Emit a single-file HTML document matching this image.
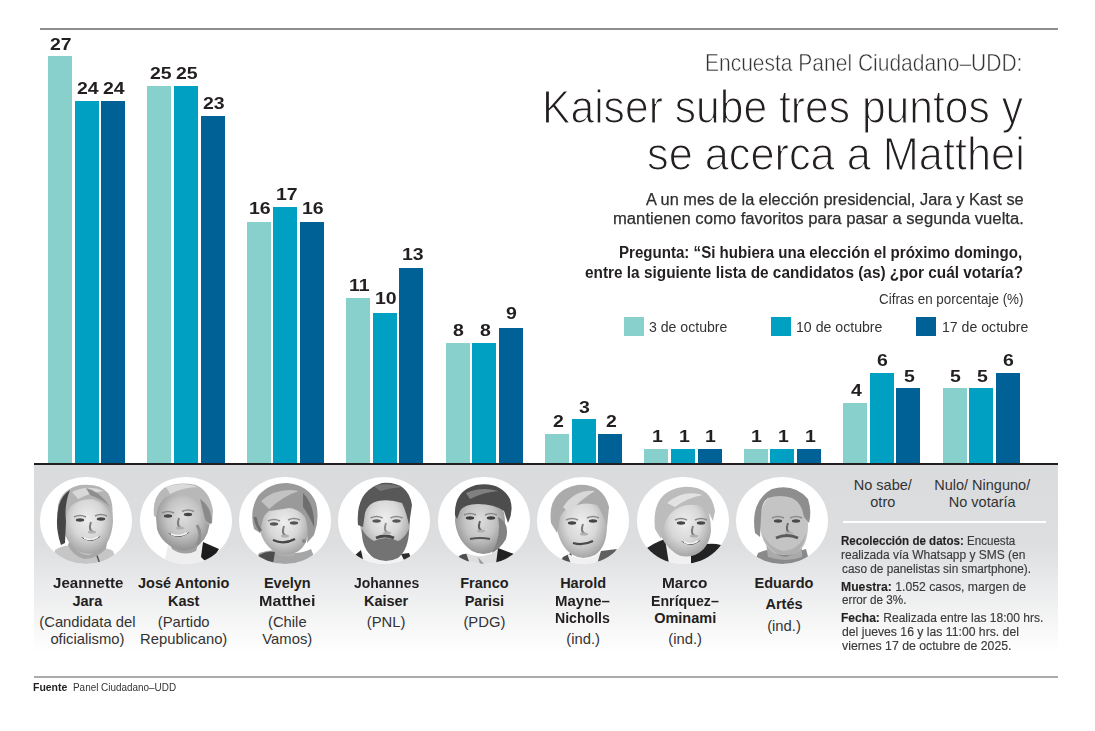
<!DOCTYPE html>
<html><head><meta charset="utf-8"><style>
html,body{margin:0;padding:0;background:#fff;}
body{width:1095px;height:731px;position:relative;overflow:hidden;font-family:"Liberation Sans", sans-serif;}
.t{position:absolute;white-space:nowrap;}
.b{position:absolute;}
.ph{position:absolute;width:92px;height:87px;border-radius:50%;background:#fff;overflow:hidden;}
</style></head><body>
<div style="position:absolute;left:40px;top:28px;width:1018px;height:2px;background:#8f8f8f"></div>
<div style="position:absolute;left:34px;top:465px;width:1024px;height:188px;background:linear-gradient(#dadbdd 0%,#dddee0 42%,#ffffff 100%)"></div>
<div style="position:absolute;left:843px;top:521px;width:203px;height:2px;background:#fff"></div>
<div style="position:absolute;left:34px;top:676px;width:1024px;height:1.5px;background:#ababab"></div>
<div class="b" style="left:624px;top:317px;width:20.3px;height:19.1px;background:#88d0cb"></div>
<div class="b" style="left:771px;top:317px;width:20.3px;height:19.1px;background:#00a0c3"></div>
<div class="b" style="left:916px;top:317px;width:20.3px;height:19.1px;background:#006196"></div>
<div class="b" style="left:48.00px;top:55.98px;width:24px;height:409.02px;background:#88d0cb"></div><div class="b" style="left:74.60px;top:101.31px;width:24px;height:363.69px;background:#00a0c3"></div><div class="b" style="left:101.20px;top:101.31px;width:24px;height:363.69px;background:#006196"></div><div class="b" style="left:147.40px;top:86.20px;width:24px;height:378.80px;background:#88d0cb"></div><div class="b" style="left:174.00px;top:86.20px;width:24px;height:378.80px;background:#00a0c3"></div><div class="b" style="left:200.60px;top:116.42px;width:24px;height:348.58px;background:#006196"></div><div class="b" style="left:246.80px;top:222.17px;width:24px;height:242.83px;background:#88d0cb"></div><div class="b" style="left:273.40px;top:207.06px;width:24px;height:257.94px;background:#00a0c3"></div><div class="b" style="left:300.00px;top:222.17px;width:24px;height:242.83px;background:#006196"></div><div class="b" style="left:346.20px;top:297.71px;width:24px;height:167.29px;background:#88d0cb"></div><div class="b" style="left:372.80px;top:312.82px;width:24px;height:152.18px;background:#00a0c3"></div><div class="b" style="left:399.40px;top:267.50px;width:24px;height:197.50px;background:#006196"></div><div class="b" style="left:445.60px;top:343.04px;width:24px;height:121.96px;background:#88d0cb"></div><div class="b" style="left:472.20px;top:343.04px;width:24px;height:121.96px;background:#00a0c3"></div><div class="b" style="left:498.80px;top:327.93px;width:24px;height:137.07px;background:#006196"></div><div class="b" style="left:545.00px;top:433.68px;width:24px;height:31.32px;background:#88d0cb"></div><div class="b" style="left:571.60px;top:418.58px;width:24px;height:46.42px;background:#00a0c3"></div><div class="b" style="left:598.20px;top:433.68px;width:24px;height:31.32px;background:#006196"></div><div class="b" style="left:644.40px;top:448.79px;width:24px;height:16.21px;background:#88d0cb"></div><div class="b" style="left:671.00px;top:448.79px;width:24px;height:16.21px;background:#00a0c3"></div><div class="b" style="left:697.60px;top:448.79px;width:24px;height:16.21px;background:#006196"></div><div class="b" style="left:743.80px;top:448.79px;width:24px;height:16.21px;background:#88d0cb"></div><div class="b" style="left:770.40px;top:448.79px;width:24px;height:16.21px;background:#00a0c3"></div><div class="b" style="left:797.00px;top:448.79px;width:24px;height:16.21px;background:#006196"></div><div class="b" style="left:843.20px;top:403.47px;width:24px;height:61.53px;background:#88d0cb"></div><div class="b" style="left:869.80px;top:373.25px;width:24px;height:91.75px;background:#00a0c3"></div><div class="b" style="left:896.40px;top:388.36px;width:24px;height:76.64px;background:#006196"></div><div class="b" style="left:942.60px;top:388.36px;width:24px;height:76.64px;background:#88d0cb"></div><div class="b" style="left:969.20px;top:388.36px;width:24px;height:76.64px;background:#00a0c3"></div><div class="b" style="left:995.80px;top:373.25px;width:24px;height:91.75px;background:#006196"></div>
<div style="position:absolute;left:34px;top:463px;width:1024px;height:2px;background:#231f20"></div>
<div class="ph" style="left:40.10px;top:477px;"><svg width="92" height="87" viewBox="0 0 92 87" style="position:absolute;left:0;top:0"><defs><filter id="bl1" x="-20%" y="-20%" width="140%" height="140%"><feGaussianBlur stdDeviation="0.7"/></filter><radialGradient id="fg1" cx="50%" cy="45%" r="60%"><stop offset="0" stop-color="#eeeeee"/><stop offset="0.5" stop-color="#d8d8d8"/><stop offset="1" stop-color="#9c9c9c"/></radialGradient><radialGradient id="fd1" cx="50%" cy="45%" r="60%"><stop offset="0" stop-color="#dedede"/><stop offset="0.5" stop-color="#c4c4c4"/><stop offset="1" stop-color="#888888"/></radialGradient></defs><g filter="url(#bl1)">
<path d="M12,87 L15,73 Q24,67 34,69 Q48,78 60,73 Q68,70 73,74 L78,87 Z" fill="#c6c6c6"/>
<path d="M56,76 L60,87" stroke="#555" stroke-width="1.5"/>
<path d="M30,62 Q36,78 49,78 Q62,74 68,60 L66,72 Q56,82 44,82 Q32,78 28,68 Z" fill="#a8a8a8"/>
<path d="M22,44 Q22,14 47,14 Q73,16 73,44 Q72,64 60,74 Q50,79 40,75 Q24,66 22,44 Z" fill="url(#fg1)"/>
<path d="M21,67 Q16,50 18,28 Q22,12 40,8 Q60,6 68,16 Q74,26 72,40 L68,33 Q62,24 52,22 Q38,22 30,30 Q25,38 25,52 L24,66 Z" fill="#b4b4b4"/>
<path d="M21,68 Q14,48 19,28 Q22,18 30,13 Q24,28 26,44 L25,66 Z" fill="#454545"/>
<path d="M32,15 Q48,7 64,14 Q52,15 38,22 Z" fill="#d8d8d8"/>
<path d="M46,11 Q60,14 70,30 Q62,22 50,18 Z" fill="#8e8e8e"/>
<path d="M34,40 Q40,37 46,40" stroke="#8a8a8a" stroke-width="1.5" fill="none"/><ellipse cx="40" cy="43" rx="4.2" ry="1.7" fill="#444"/><path d="M55,39 Q61,36 67,39" stroke="#8a8a8a" stroke-width="1.5" fill="none"/><ellipse cx="61" cy="42" rx="4.2" ry="1.7" fill="#444"/><path d="M51,45 Q48,53 53,55" stroke="#7e7e7e" stroke-width="2" fill="none"/><ellipse cx="52" cy="55" rx="4" ry="1.5" fill="#b0b0b0"/><path d="M41,60 Q51.0,65 61,59 Q51.0,68 41,60 Z" fill="#353535"/><path d="M44,61 Q51.0,64.5 58,60" stroke="#f2f2f2" stroke-width="1.6" fill="none"/></g></svg></div><div class="ph" style="left:139.50px;top:477px;"><svg width="92" height="87" viewBox="0 0 92 87" style="position:absolute;left:0;top:0"><defs><filter id="bl2" x="-20%" y="-20%" width="140%" height="140%"><feGaussianBlur stdDeviation="0.7"/></filter><radialGradient id="fg2" cx="50%" cy="45%" r="60%"><stop offset="0" stop-color="#eeeeee"/><stop offset="0.5" stop-color="#d8d8d8"/><stop offset="1" stop-color="#9c9c9c"/></radialGradient><radialGradient id="fd2" cx="50%" cy="45%" r="60%"><stop offset="0" stop-color="#dedede"/><stop offset="0.5" stop-color="#c4c4c4"/><stop offset="1" stop-color="#888888"/></radialGradient></defs><g filter="url(#bl2)">
<path d="M24,87 L28,68 Q44,74 62,66 L66,87 Z" fill="#eeeeee"/>
<path d="M30,66 Q42,76 58,68 L56,74 Q44,80 32,72 Z" fill="#a0a0a0"/>
<path d="M63,65 L79,72 Q74,81 66,85 L61,80 Z" fill="#1e1e1e"/>
<path d="M16,40 Q16,12 42,12 Q68,14 70,40 Q70,58 60,67 Q50,75 40,73 Q22,68 17,52 Z" fill="url(#fd2)"/>
<path d="M14,39 Q12,20 24,11 Q38,4 56,8 Q70,14 73,34 L72,46 Q68,50 66,44 Q64,30 54,20 Q40,14 26,20 Q18,26 16,40 Z" fill="#b8b8b8"/>
<path d="M60,22 Q72,30 72,46 Q66,48 64,38 Z" fill="#8a8a8a"/>
<path d="M26,10 Q42,4 58,10 Q44,10 30,17 Z" fill="#dadada"/>
<path d="M22,36 Q28,33 34,36" stroke="#8a8a8a" stroke-width="1.5" fill="none"/><ellipse cx="28" cy="39" rx="4.2" ry="1.7" fill="#444"/><path d="M42,34.5 Q48,31.5 54,34.5" stroke="#8a8a8a" stroke-width="1.5" fill="none"/><ellipse cx="48" cy="37.5" rx="4.2" ry="1.7" fill="#444"/><path d="M39,41 Q36,49 41,51" stroke="#7e7e7e" stroke-width="2" fill="none"/><ellipse cx="40" cy="51" rx="4" ry="1.5" fill="#b0b0b0"/><path d="M28,56 Q39.0,61 50,55 Q39.0,64 28,56 Z" fill="#353535"/><path d="M31,57 Q39.0,60.5 47,56" stroke="#f2f2f2" stroke-width="1.6" fill="none"/>
<path d="M57,48 Q63,58 57,68" stroke="#8e8e8e" stroke-width="3" fill="none"/>
</g></svg></div><div class="ph" style="left:238.90px;top:477px;"><svg width="92" height="87" viewBox="0 0 92 87" style="position:absolute;left:0;top:0"><defs><filter id="bl3" x="-20%" y="-20%" width="140%" height="140%"><feGaussianBlur stdDeviation="0.7"/></filter><radialGradient id="fg3" cx="50%" cy="45%" r="60%"><stop offset="0" stop-color="#eeeeee"/><stop offset="0.5" stop-color="#d8d8d8"/><stop offset="1" stop-color="#9c9c9c"/></radialGradient><radialGradient id="fd3" cx="50%" cy="45%" r="60%"><stop offset="0" stop-color="#dedede"/><stop offset="0.5" stop-color="#c4c4c4"/><stop offset="1" stop-color="#888888"/></radialGradient></defs><g filter="url(#bl3)">
<path d="M16,87 L20,76 Q34,71 46,75 Q60,78 72,72 L78,87 Z" fill="#a6a6a6"/>
<path d="M20,78 Q28,73 36,75 L34,87 L18,87 Z" fill="#4e4e4e"/>
<path d="M36,68 Q44,78 56,70 L56,78 Q46,82 36,76 Z" fill="#b0b0b0"/>
<path d="M20,48 Q20,20 45,20 Q70,20 70,48 Q70,68 58,75 Q46,80 36,75 Q22,66 20,48 Z" fill="url(#fg3)"/>
<path d="M15,52 Q10,34 19,19 Q30,6 48,6 Q70,8 77,26 Q81,42 75,58 L68,66 Q70,50 66,40 Q60,32 50,31 Q38,33 30,34 Q24,38 23,46 L21,56 Z" fill="#9a9a9a"/>
<path d="M22,24 Q38,10 60,14 Q46,18 30,32 Z" fill="#c2c2c2"/>
<path d="M64,16 Q76,28 75,50 Q70,38 64,30 Z" fill="#6e6e6e"/>
<path d="M16,40 Q18,50 22,54" stroke="#6e6e6e" stroke-width="3" fill="none"/>
<path d="M29,44 Q35,41 41,44" stroke="#8a8a8a" stroke-width="1.5" fill="none"/><ellipse cx="35" cy="47" rx="4.2" ry="1.7" fill="#555"/><path d="M49,43 Q55,40 61,43" stroke="#8a8a8a" stroke-width="1.5" fill="none"/><ellipse cx="55" cy="46" rx="4.2" ry="1.7" fill="#555"/><path d="M45,49 Q42,57 47,59" stroke="#7e7e7e" stroke-width="2" fill="none"/><ellipse cx="46" cy="59" rx="4" ry="1.5" fill="#b0b0b0"/>
<path d="M34,63 Q45,68 56,62" stroke="#444" stroke-width="2.2" fill="none"/>
<circle cx="65" cy="64" r="2" fill="#888"/>
</g></svg></div><div class="ph" style="left:338.30px;top:477px;"><svg width="92" height="87" viewBox="0 0 92 87" style="position:absolute;left:0;top:0"><defs><filter id="bl4" x="-20%" y="-20%" width="140%" height="140%"><feGaussianBlur stdDeviation="0.7"/></filter><radialGradient id="fg4" cx="50%" cy="45%" r="60%"><stop offset="0" stop-color="#eeeeee"/><stop offset="0.5" stop-color="#d8d8d8"/><stop offset="1" stop-color="#9c9c9c"/></radialGradient><radialGradient id="fd4" cx="50%" cy="45%" r="60%"><stop offset="0" stop-color="#dedede"/><stop offset="0.5" stop-color="#c4c4c4"/><stop offset="1" stop-color="#888888"/></radialGradient></defs><g filter="url(#bl4)">
<path d="M15,80 L23,73 L28,87 L16,87 Z" fill="#262626"/>
<path d="M23,73 Q46,92 66,78 L70,87 L26,87 Z" fill="#f2f2f2"/>
<path d="M63,77 L71,76 L74,84 L68,87 Z" fill="#2e2e2e"/>
<path d="M22,44 Q22,14 46,14 Q72,14 72,44 Q72,64 62,72 Q48,78 34,72 Q22,62 22,44 Z" fill="url(#fg4)"/>
<path d="M24,52 Q23,72 36,81 Q48,87 60,81 Q71,72 71,52 Q66,62 60,64 Q48,58 36,64 Q28,60 24,52 Z" fill="#737373"/>
<path d="M38,61 Q47,57 56,61" stroke="#4a4a4a" stroke-width="3" fill="none"/>
<path d="M20,48 Q17,14 44,6 Q70,4 74,28 L71,48 Q68,34 64,26 Q52,22 40,24 Q30,26 27,36 L25,50 Z" fill="#595959"/>
<path d="M36,9 Q50,5 64,10 Q52,11 42,14 Z" fill="#767676"/>
<path d="M32.6,41 Q38.6,38 44.6,41" stroke="#8a8a8a" stroke-width="1.5" fill="none"/><ellipse cx="38.6" cy="44" rx="4.2" ry="1.7" fill="#555"/><path d="M52.5,41 Q58.5,38 64.5,41" stroke="#8a8a8a" stroke-width="1.5" fill="none"/><ellipse cx="58.5" cy="44" rx="4.2" ry="1.7" fill="#555"/><path d="M48,46 Q45,54 50,56" stroke="#909090" stroke-width="2" fill="none"/><ellipse cx="49" cy="56" rx="4" ry="1.5" fill="#b0b0b0"/></g></svg></div><div class="ph" style="left:437.70px;top:477px;"><svg width="92" height="87" viewBox="0 0 92 87" style="position:absolute;left:0;top:0"><defs><filter id="bl5" x="-20%" y="-20%" width="140%" height="140%"><feGaussianBlur stdDeviation="0.7"/></filter><radialGradient id="fg5" cx="50%" cy="45%" r="60%"><stop offset="0" stop-color="#eeeeee"/><stop offset="0.5" stop-color="#d8d8d8"/><stop offset="1" stop-color="#9c9c9c"/></radialGradient><radialGradient id="fd5" cx="50%" cy="45%" r="60%"><stop offset="0" stop-color="#dedede"/><stop offset="0.5" stop-color="#c4c4c4"/><stop offset="1" stop-color="#888888"/></radialGradient></defs><g filter="url(#bl5)">
<path d="M18,87 L21,79 Q26,76 30,77 L34,87 Z" fill="#505050"/>
<path d="M28,76 Q44,84 62,72 L66,87 L32,87 Z" fill="#dedede"/>
<path d="M40,80 L46,87 L42,87 Z" fill="#9a9a9a"/>
<path d="M60,71 L76,77 Q72,84 62,87 L58,87 Z" fill="#222"/>
<path d="M17,44 Q17,16 41,16 Q67,18 67,46 Q67,66 56,74 Q46,80 34,74 Q19,64 17,44 Z" fill="url(#fd5)"/>
<path d="M60,40 Q72,46 68,62 Q62,72 54,76 Q64,58 60,40 Z" fill="#828282"/>
<path d="M17,38 Q16,14 38,8 Q62,4 72,22 Q76,34 70,46 L66,34 Q56,27 40,27 Q26,27 22,34 L19,42 Z" fill="#4e4e4e"/>
<path d="M28,16 Q44,9 60,14 Q46,15 32,22 Z" fill="#808080"/>
<path d="M26,38 Q32,35 38,38" stroke="#8a8a8a" stroke-width="1.5" fill="none"/><ellipse cx="32" cy="41" rx="4.2" ry="1.7" fill="#3e3e3e"/><path d="M47,38 Q53,35 59,38" stroke="#8a8a8a" stroke-width="1.5" fill="none"/><ellipse cx="53" cy="41" rx="4.2" ry="1.7" fill="#3e3e3e"/><path d="M42,44 Q39,52 44,54" stroke="#5e5e5e" stroke-width="2" fill="none"/><ellipse cx="43" cy="54" rx="4" ry="1.5" fill="#b0b0b0"/>
<path d="M32,62 Q42,60 52,62" stroke="#555" stroke-width="2.2" fill="none"/>
</g></svg></div><div class="ph" style="left:537.10px;top:477px;"><svg width="92" height="87" viewBox="0 0 92 87" style="position:absolute;left:0;top:0"><defs><filter id="bl6" x="-20%" y="-20%" width="140%" height="140%"><feGaussianBlur stdDeviation="0.7"/></filter><radialGradient id="fg6" cx="50%" cy="45%" r="60%"><stop offset="0" stop-color="#eeeeee"/><stop offset="0.5" stop-color="#d8d8d8"/><stop offset="1" stop-color="#9c9c9c"/></radialGradient><radialGradient id="fd6" cx="50%" cy="45%" r="60%"><stop offset="0" stop-color="#dedede"/><stop offset="0.5" stop-color="#c4c4c4"/><stop offset="1" stop-color="#888888"/></radialGradient></defs><g filter="url(#bl6)">
<path d="M22,87 L26,80 L34,76 L38,87 Z" fill="#505050"/>
<path d="M30,76 Q48,88 66,74 L64,87 L34,87 Z" fill="#f0f0f0"/>
<path d="M64,74 L80,72 Q74,82 64,87 L60,87 Z" fill="#606060"/>
<path d="M19,46 Q19,16 44,16 Q70,16 70,48 Q70,70 58,78 Q46,84 36,78 Q22,70 19,46 Z" fill="url(#fg6)"/>
<path d="M14,46 Q10,14 40,8 Q66,6 72,30 L70,50 Q66,36 60,28 Q48,24 34,30 Q22,34 22,48 L20,56 Z" fill="#ababab"/>
<path d="M26,30 Q38,12 58,14 Q44,22 32,36 Z" fill="#d8d8d8"/>
<path d="M29,43 Q35,40 41,43" stroke="#8a8a8a" stroke-width="1.5" fill="none"/><ellipse cx="35" cy="46" rx="4.2" ry="1.7" fill="#444"/><path d="M50,41 Q56,38 62,41" stroke="#8a8a8a" stroke-width="1.5" fill="none"/><ellipse cx="56" cy="44" rx="4.2" ry="1.7" fill="#444"/><path d="M46,47 Q43,55 48,57" stroke="#7e7e7e" stroke-width="2" fill="none"/><ellipse cx="47" cy="57" rx="4" ry="1.5" fill="#b0b0b0"/>
<path d="M36,66 Q46,69 56,64" stroke="#4a4a4a" stroke-width="2.2" fill="none"/>
</g></svg></div><div class="ph" style="left:636.50px;top:477px;"><svg width="92" height="87" viewBox="0 0 92 87" style="position:absolute;left:0;top:0"><defs><filter id="bl7" x="-20%" y="-20%" width="140%" height="140%"><feGaussianBlur stdDeviation="0.7"/></filter><radialGradient id="fg7" cx="50%" cy="45%" r="60%"><stop offset="0" stop-color="#eeeeee"/><stop offset="0.5" stop-color="#d8d8d8"/><stop offset="1" stop-color="#9c9c9c"/></radialGradient><radialGradient id="fd7" cx="50%" cy="45%" r="60%"><stop offset="0" stop-color="#dedede"/><stop offset="0.5" stop-color="#c4c4c4"/><stop offset="1" stop-color="#888888"/></radialGradient></defs><g filter="url(#bl7)">
<path d="M6,74 Q16,66 28,62 L34,87 L16,87 Z" fill="#262626"/>
<path d="M28,62 Q38,86 56,76 L56,87 L32,87 Z" fill="#f0f0f0"/>
<path d="M54,72 Q70,64 84,68 Q80,80 70,87 L54,87 Z" fill="#202020"/>
<path d="M22,50 Q22,18 48,18 Q74,20 74,54 Q72,72 58,78 Q46,82 38,76 Q24,66 22,50 Z" fill="url(#fg7)"/>
<path d="M18,52 Q14,14 46,10 Q74,8 78,34 L76,44 Q70,30 60,28 Q44,26 34,36 Q26,44 26,56 L24,62 Z" fill="#bcbcbc"/>
<path d="M30,26 Q46,12 66,18 Q52,20 38,30 Z" fill="#e2e2e2"/>
<path d="M38,43 Q44,40 50,43" stroke="#8a8a8a" stroke-width="1.5" fill="none"/><ellipse cx="44" cy="46" rx="4.2" ry="1.7" fill="#444"/><path d="M58,43 Q64,40 70,43" stroke="#8a8a8a" stroke-width="1.5" fill="none"/><ellipse cx="64" cy="46" rx="4.2" ry="1.7" fill="#444"/><path d="M56,49 Q53,57 58,59" stroke="#7e7e7e" stroke-width="2" fill="none"/><ellipse cx="57" cy="59" rx="4" ry="1.5" fill="#b0b0b0"/><path d="M44,64 Q54.0,69 64,63 Q54.0,72 44,64 Z" fill="#353535"/><path d="M47,65 Q54.0,68.5 61,64" stroke="#f2f2f2" stroke-width="1.6" fill="none"/></g></svg></div><div class="ph" style="left:735.90px;top:477px;"><svg width="92" height="87" viewBox="0 0 92 87" style="position:absolute;left:0;top:0"><defs><filter id="bl8" x="-20%" y="-20%" width="140%" height="140%"><feGaussianBlur stdDeviation="0.7"/></filter><radialGradient id="fg8" cx="50%" cy="45%" r="60%"><stop offset="0" stop-color="#eeeeee"/><stop offset="0.5" stop-color="#d8d8d8"/><stop offset="1" stop-color="#9c9c9c"/></radialGradient><radialGradient id="fd8" cx="50%" cy="45%" r="60%"><stop offset="0" stop-color="#dedede"/><stop offset="0.5" stop-color="#c4c4c4"/><stop offset="1" stop-color="#888888"/></radialGradient></defs><g filter="url(#bl8)">
<path d="M18,87 L22,76 Q34,70 46,74 Q60,76 70,72 L74,87 Z" fill="#8a8a8a"/>
<path d="M30,66 Q40,80 50,80 Q60,78 66,66 L66,80 Q50,86 32,80 Z" fill="#aaaaaa"/>
<path d="M24,46 Q24,16 48,16 Q72,18 72,48 Q72,70 60,76 Q48,80 38,76 Q24,66 24,46 Z" fill="#c4c4c4"/>
<path d="M26,56 Q30,70 40,76 Q50,80 60,76 Q68,70 70,56 Q64,72 48,74 Q34,72 26,56 Z" fill="#b0b0b0"/>
<path d="M19,56 Q14,24 36,12 Q58,6 72,22 Q76,34 73,46 L68,40 Q66,26 56,21 Q44,17 32,21 Q25,26 25,40 L24,60 Z" fill="#8e8e8e"/>
<path d="M36,41 Q42,38 48,41" stroke="#8a8a8a" stroke-width="1.5" fill="none"/><ellipse cx="42" cy="44" rx="4.2" ry="1.7" fill="#4a4a4a"/><path d="M54,41 Q60,38 66,41" stroke="#8a8a8a" stroke-width="1.5" fill="none"/><ellipse cx="60" cy="44" rx="4.2" ry="1.7" fill="#4a4a4a"/><path d="M52,46 Q49,54 54,56" stroke="#6a6a6a" stroke-width="2" fill="none"/><ellipse cx="53" cy="56" rx="4" ry="1.5" fill="#b0b0b0"/>
<path d="M40,61 Q51,56 62,61" stroke="#5a5a5a" stroke-width="3" fill="none"/>
</g></svg></div>
<div class="t" style="left:705.25px;top:51.00px;font-size:24px;line-height:24px;font-weight:400;color:#333;-webkit-text-stroke:0.5px #fff;transform:scaleX(0.8747);transform-origin:0 0;">Encuesta Panel Ciudadano–UDD:</div><div class="t" style="left:542.25px;top:85.00px;font-size:45.5px;line-height:45.5px;font-weight:400;color:#231f20;-webkit-text-stroke:1.2px #fff;transform:scaleX(0.9370);transform-origin:0 0;">Kaiser sube tres puntos y</div><div class="t" style="left:647.10px;top:132.00px;font-size:45.5px;line-height:45.5px;font-weight:400;color:#231f20;-webkit-text-stroke:1.2px #fff;transform:scaleX(0.9514);transform-origin:0 0;">se acerca a Matthei</div><div class="t" style="left:645.60px;top:191.00px;font-size:17.3px;line-height:17.3px;font-weight:400;color:#2e2e2e;-webkit-text-stroke:0.25px #2e2e2e;transform:scaleX(0.9475);transform-origin:0 0;">A un mes de la elección presidencial, Jara y Kast se</div><div class="t" style="left:612.64px;top:210.00px;font-size:17.3px;line-height:17.3px;font-weight:400;color:#2e2e2e;-webkit-text-stroke:0.25px #2e2e2e;transform:scaleX(0.9632);transform-origin:0 0;">mantienen como favoritos para pasar a segunda vuelta.</div><div class="t" style="left:619.06px;top:245.30px;font-size:16px;line-height:16px;font-weight:700;color:#231f20;transform:scaleX(0.9427);transform-origin:0 0;">Pregunta: “Si hubiera una elección el próximo domingo,</div><div class="t" style="left:584.64px;top:264.70px;font-size:16px;line-height:16px;font-weight:700;color:#231f20;transform:scaleX(0.9604);transform-origin:0 0;">entre la siguiente lista de candidatos (as) ¿por cuál votaría?</div><div class="t" style="left:878.69px;top:291.70px;font-size:14.8px;line-height:14.8px;font-weight:400;color:#333;transform:scaleX(0.9057);transform-origin:0 0;">Cifras en porcentaje (%)</div><div class="t" style="left:649.03px;top:319.50px;font-size:14.5px;line-height:14.5px;font-weight:400;color:#333;transform:scaleX(0.9722);transform-origin:0 0;">3 de octubre</div><div class="t" style="left:795.73px;top:319.50px;font-size:14.5px;line-height:14.5px;font-weight:400;color:#333;transform:scaleX(0.9747);transform-origin:0 0;">10 de octubre</div><div class="t" style="left:942.33px;top:319.50px;font-size:14.5px;line-height:14.5px;font-weight:400;color:#333;transform:scaleX(0.9736);transform-origin:0 0;">17 de octubre</div><div class="t" style="left:50.17px;top:35.98px;font-size:17.4px;line-height:17.4px;font-weight:700;color:#231f20;transform:scaleX(1.1200);transform-origin:0 0;">27</div><div class="t" style="left:76.77px;top:80.01px;font-size:17.4px;line-height:17.4px;font-weight:700;color:#231f20;transform:scaleX(1.1200);transform-origin:0 0;">24</div><div class="t" style="left:103.37px;top:80.01px;font-size:17.4px;line-height:17.4px;font-weight:700;color:#231f20;transform:scaleX(1.1200);transform-origin:0 0;">24</div><div class="t" style="left:149.57px;top:65.00px;font-size:17.4px;line-height:17.4px;font-weight:700;color:#231f20;transform:scaleX(1.1200);transform-origin:0 0;">25</div><div class="t" style="left:176.17px;top:65.00px;font-size:17.4px;line-height:17.4px;font-weight:700;color:#231f20;transform:scaleX(1.1200);transform-origin:0 0;">25</div><div class="t" style="left:202.77px;top:95.02px;font-size:17.4px;line-height:17.4px;font-weight:700;color:#231f20;transform:scaleX(1.1200);transform-origin:0 0;">23</div><div class="t" style="left:248.97px;top:199.97px;font-size:17.4px;line-height:17.4px;font-weight:700;color:#231f20;transform:scaleX(1.1200);transform-origin:0 0;">16</div><div class="t" style="left:275.57px;top:185.96px;font-size:17.4px;line-height:17.4px;font-weight:700;color:#231f20;transform:scaleX(1.1200);transform-origin:0 0;">17</div><div class="t" style="left:302.17px;top:199.97px;font-size:17.4px;line-height:17.4px;font-weight:700;color:#231f20;transform:scaleX(1.1200);transform-origin:0 0;">16</div><div class="t" style="left:348.90px;top:276.61px;font-size:17.4px;line-height:17.4px;font-weight:700;color:#231f20;transform:scaleX(1.1200);transform-origin:0 0;">11</div><div class="t" style="left:374.97px;top:290.42px;font-size:17.4px;line-height:17.4px;font-weight:700;color:#231f20;transform:scaleX(1.1200);transform-origin:0 0;">10</div><div class="t" style="left:401.57px;top:245.60px;font-size:17.4px;line-height:17.4px;font-weight:700;color:#231f20;transform:scaleX(1.1200);transform-origin:0 0;">13</div><div class="t" style="left:453.18px;top:322.04px;font-size:17.4px;line-height:17.4px;font-weight:700;color:#231f20;transform:scaleX(1.1200);transform-origin:0 0;">8</div><div class="t" style="left:479.78px;top:322.04px;font-size:17.4px;line-height:17.4px;font-weight:700;color:#231f20;transform:scaleX(1.1200);transform-origin:0 0;">8</div><div class="t" style="left:506.38px;top:304.93px;font-size:17.4px;line-height:17.4px;font-weight:700;color:#231f20;transform:scaleX(1.1200);transform-origin:0 0;">9</div><div class="t" style="left:552.58px;top:412.98px;font-size:17.4px;line-height:17.4px;font-weight:700;color:#231f20;transform:scaleX(1.1200);transform-origin:0 0;">2</div><div class="t" style="left:579.18px;top:398.88px;font-size:17.4px;line-height:17.4px;font-weight:700;color:#231f20;transform:scaleX(1.1200);transform-origin:0 0;">3</div><div class="t" style="left:605.78px;top:412.98px;font-size:17.4px;line-height:17.4px;font-weight:700;color:#231f20;transform:scaleX(1.1200);transform-origin:0 0;">2</div><div class="t" style="left:651.98px;top:427.99px;font-size:17.4px;line-height:17.4px;font-weight:700;color:#231f20;transform:scaleX(1.1200);transform-origin:0 0;">1</div><div class="t" style="left:678.58px;top:427.99px;font-size:17.4px;line-height:17.4px;font-weight:700;color:#231f20;transform:scaleX(1.1200);transform-origin:0 0;">1</div><div class="t" style="left:705.18px;top:427.99px;font-size:17.4px;line-height:17.4px;font-weight:700;color:#231f20;transform:scaleX(1.1200);transform-origin:0 0;">1</div><div class="t" style="left:751.38px;top:427.99px;font-size:17.4px;line-height:17.4px;font-weight:700;color:#231f20;transform:scaleX(1.1200);transform-origin:0 0;">1</div><div class="t" style="left:777.98px;top:427.99px;font-size:17.4px;line-height:17.4px;font-weight:700;color:#231f20;transform:scaleX(1.1200);transform-origin:0 0;">1</div><div class="t" style="left:804.58px;top:427.99px;font-size:17.4px;line-height:17.4px;font-weight:700;color:#231f20;transform:scaleX(1.1200);transform-origin:0 0;">1</div><div class="t" style="left:850.78px;top:382.37px;font-size:17.4px;line-height:17.4px;font-weight:700;color:#231f20;transform:scaleX(1.1200);transform-origin:0 0;">4</div><div class="t" style="left:877.38px;top:351.95px;font-size:17.4px;line-height:17.4px;font-weight:700;color:#231f20;transform:scaleX(1.1200);transform-origin:0 0;">6</div><div class="t" style="left:903.98px;top:367.96px;font-size:17.4px;line-height:17.4px;font-weight:700;color:#231f20;transform:scaleX(1.1200);transform-origin:0 0;">5</div><div class="t" style="left:950.18px;top:367.96px;font-size:17.4px;line-height:17.4px;font-weight:700;color:#231f20;transform:scaleX(1.1200);transform-origin:0 0;">5</div><div class="t" style="left:976.78px;top:367.96px;font-size:17.4px;line-height:17.4px;font-weight:700;color:#231f20;transform:scaleX(1.1200);transform-origin:0 0;">5</div><div class="t" style="left:1003.38px;top:351.95px;font-size:17.4px;line-height:17.4px;font-weight:700;color:#231f20;transform:scaleX(1.1200);transform-origin:0 0;">6</div><div class="t" style="left:52.55px;top:576.30px;font-size:14.5px;line-height:14.5px;font-weight:700;color:#231f20;transform:scaleX(1.0403);transform-origin:0 0;">Jeannette</div><div class="t" style="left:72.48px;top:593.80px;font-size:14.5px;line-height:14.5px;font-weight:700;color:#231f20;">Jara</div><div class="t" style="left:39.27px;top:614.50px;font-size:14.8px;line-height:14.8px;font-weight:400;color:#333;">(Candidata del</div><div class="t" style="left:50.40px;top:632.30px;font-size:14.8px;line-height:14.8px;font-weight:400;color:#333;">oficialismo)</div><div class="t" style="left:138.04px;top:576.30px;font-size:14.5px;line-height:14.5px;font-weight:700;color:#231f20;">José Antonio</div><div class="t" style="left:167.98px;top:593.80px;font-size:14.5px;line-height:14.5px;font-weight:700;color:#231f20;">Kast</div><div class="t" style="left:157.79px;top:614.50px;font-size:14.8px;line-height:14.8px;font-weight:400;color:#333;">(Partido</div><div class="t" style="left:140.10px;top:632.30px;font-size:14.8px;line-height:14.8px;font-weight:400;color:#333;">Republicano)</div><div class="t" style="left:263.92px;top:576.30px;font-size:14.5px;line-height:14.5px;font-weight:700;color:#231f20;">Evelyn</div><div class="t" style="left:258.94px;top:593.80px;font-size:14.5px;line-height:14.5px;font-weight:700;color:#231f20;transform:scaleX(1.1122);transform-origin:0 0;">Matthei</div><div class="t" style="left:267.97px;top:614.50px;font-size:14.8px;line-height:14.8px;font-weight:400;color:#333;">(Chile</div><div class="t" style="left:262.35px;top:632.30px;font-size:14.8px;line-height:14.8px;font-weight:400;color:#333;">Vamos)</div><div class="t" style="left:353.85px;top:576.30px;font-size:14.5px;line-height:14.5px;font-weight:700;color:#231f20;transform:scaleX(0.9627);transform-origin:0 0;">Johannes</div><div class="t" style="left:363.93px;top:593.80px;font-size:14.5px;line-height:14.5px;font-weight:700;color:#231f20;">Kaiser</div><div class="t" style="left:366.78px;top:614.50px;font-size:14.8px;line-height:14.8px;font-weight:400;color:#333;">(PNL)</div><div class="t" style="left:460.23px;top:576.30px;font-size:14.5px;line-height:14.5px;font-weight:700;color:#231f20;">Franco</div><div class="t" style="left:464.65px;top:593.80px;font-size:14.5px;line-height:14.5px;font-weight:700;color:#231f20;">Parisi</div><div class="t" style="left:463.44px;top:614.50px;font-size:14.8px;line-height:14.8px;font-weight:400;color:#333;">(PDG)</div><div class="t" style="left:560.14px;top:576.30px;font-size:14.5px;line-height:14.5px;font-weight:700;color:#231f20;">Harold</div><div class="t" style="left:555.22px;top:593.80px;font-size:14.5px;line-height:14.5px;font-weight:700;color:#231f20;transform:scaleX(1.0327);transform-origin:0 0;">Mayne–</div><div class="t" style="left:555.38px;top:611.30px;font-size:14.5px;line-height:14.5px;font-weight:700;color:#231f20;transform:scaleX(0.9727);transform-origin:0 0;">Nicholls</div><div class="t" style="left:566.24px;top:632.00px;font-size:14.8px;line-height:14.8px;font-weight:400;color:#333;">(ind.)</div><div class="t" style="left:662.28px;top:576.30px;font-size:14.5px;line-height:14.5px;font-weight:700;color:#231f20;transform:scaleX(1.0659);transform-origin:0 0;">Marco</div><div class="t" style="left:650.97px;top:593.80px;font-size:14.5px;line-height:14.5px;font-weight:700;color:#231f20;transform:scaleX(0.9779);transform-origin:0 0;">Enríquez–</div><div class="t" style="left:654.18px;top:611.30px;font-size:14.5px;line-height:14.5px;font-weight:700;color:#231f20;">Ominami</div><div class="t" style="left:668.34px;top:632.00px;font-size:14.8px;line-height:14.8px;font-weight:400;color:#333;">(ind.)</div><div class="t" style="left:754.59px;top:576.30px;font-size:14.5px;line-height:14.5px;font-weight:700;color:#231f20;">Eduardo</div><div class="t" style="left:765.46px;top:597.20px;font-size:14.5px;line-height:14.5px;font-weight:700;color:#231f20;">Artés</div><div class="t" style="left:767.14px;top:618.50px;font-size:14.8px;line-height:14.8px;font-weight:400;color:#333;">(ind.)</div><div class="t" style="left:853.78px;top:477.80px;font-size:14.5px;line-height:14.5px;font-weight:400;color:#333;">No sabe/</div><div class="t" style="left:870.30px;top:495.30px;font-size:14.5px;line-height:14.5px;font-weight:400;color:#333;">otro</div><div class="t" style="left:934.24px;top:477.80px;font-size:14.5px;line-height:14.5px;font-weight:400;color:#333;">Nulo/ Ninguno/</div><div class="t" style="left:948.75px;top:495.30px;font-size:14.5px;line-height:14.5px;font-weight:400;color:#333;">No votaría</div><div class="t" style="left:841.04px;top:534.60px;font-size:12px;line-height:12px;font-weight:400;color:#3a3a3a;-webkit-text-stroke:0.15px #3a3a3a;transform:scaleX(0.9644);transform-origin:0 0;"><span style="font-weight:700;color:#231f20">Recolección de datos:</span><span style="font-weight:400;color:#3a3a3a"> Encuesta</span></div><div class="t" style="left:841.00px;top:548.60px;font-size:12px;line-height:12px;font-weight:400;color:#3a3a3a;-webkit-text-stroke:0.15px #3a3a3a;transform:scaleX(0.9978);transform-origin:0 0;"><span style="font-weight:400;color:#3a3a3a">realizada vía Whatsapp y SMS (en</span></div><div class="t" style="left:842.00px;top:562.60px;font-size:12px;line-height:12px;font-weight:400;color:#3a3a3a;-webkit-text-stroke:0.15px #3a3a3a;transform:scaleX(0.9843);transform-origin:0 0;"><span style="font-weight:400;color:#3a3a3a">caso de panelistas sin smartphone).</span></div><div class="t" style="left:840.98px;top:580.60px;font-size:12px;line-height:12px;font-weight:400;color:#3a3a3a;-webkit-text-stroke:0.15px #3a3a3a;transform:scaleX(1.0166);transform-origin:0 0;"><span style="font-weight:700;color:#231f20">Muestra:</span><span style="font-weight:400;color:#3a3a3a"> 1.052 casos, margen de</span></div><div class="t" style="left:842.00px;top:594.40px;font-size:12px;line-height:12px;font-weight:400;color:#3a3a3a;-webkit-text-stroke:0.15px #3a3a3a;transform:scaleX(0.9754);transform-origin:0 0;"><span style="font-weight:400;color:#3a3a3a">error de 3%.</span></div><div class="t" style="left:840.99px;top:612.00px;font-size:12px;line-height:12px;font-weight:400;color:#3a3a3a;-webkit-text-stroke:0.15px #3a3a3a;transform:scaleX(1.0050);transform-origin:0 0;"><span style="font-weight:700;color:#231f20">Fecha:</span><span style="font-weight:400;color:#3a3a3a"> Realizada entre las 18:00 hrs.</span></div><div class="t" style="left:842.00px;top:626.00px;font-size:12px;line-height:12px;font-weight:400;color:#3a3a3a;-webkit-text-stroke:0.15px #3a3a3a;transform:scaleX(1.0173);transform-origin:0 0;"><span style="font-weight:400;color:#3a3a3a">del jueves 16 y las 11:00 hrs. del</span></div><div class="t" style="left:842.00px;top:640.00px;font-size:12px;line-height:12px;font-weight:400;color:#3a3a3a;-webkit-text-stroke:0.15px #3a3a3a;transform:scaleX(1.0244);transform-origin:0 0;"><span style="font-weight:400;color:#3a3a3a">viernes 17 de octubre de 2025.</span></div><div class="t" style="left:33.00px;top:682.20px;font-size:10.5px;line-height:10.5px;font-weight:700;color:#231f20;transform:scaleX(0.9970);transform-origin:0 0;">Fuente</div><div class="t" style="left:72.66px;top:682.20px;font-size:10.5px;line-height:10.5px;font-weight:400;color:#333;transform:scaleX(0.9444);transform-origin:0 0;">Panel Ciudadano–UDD</div>
</body></html>
